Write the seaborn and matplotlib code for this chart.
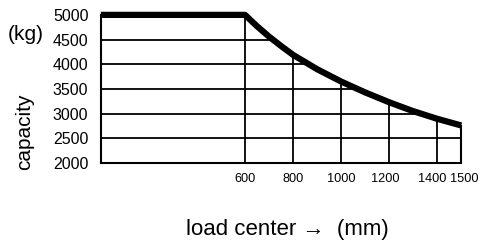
import matplotlib
matplotlib.use("Agg")
import matplotlib.pyplot as plt
import matplotlib.transforms as mtransforms
import seaborn as sns
import pandas as pd

# load center (mm) vs rated capacity (kg)
load_center = [0, 600, 650, 700, 750, 800, 900, 1000, 1100, 1200, 1300, 1400, 1500]
capacity = [5000, 5000, 4770, 4560, 4370, 4190, 3900, 3650, 3430, 3230, 3050, 2895, 2760]

x_ticks = [600, 800, 1000, 1200, 1400, 1500]
y_ticks = [2000, 2500, 3000, 3500, 4000, 4500, 5000]

df = pd.DataFrame({"load_center": load_center, "capacity": capacity})

sns.set_style("white")
plt.rcParams['font.family'] = ['Liberation Sans', 'DejaVu Sans']

fig = plt.figure(figsize=(4.85, 2.44), dpi=100)
ax = fig.add_axes([0.208, 0.332, 0.743, 0.607])

ax.set_xlim(0, 1500)
ax.set_ylim(2000, 5000)
ax.set_xticks(x_ticks)
ax.set_yticks(y_ticks)
ax.tick_params(axis='x', length=0, labelsize=9.2, pad=7, labelcolor='black')
ax.tick_params(axis='y', length=0, labelsize=11.5, pad=9, labelcolor='black')

# the last x labels sit a bit off their lines so they don't collide
nudge = {1200: -4, 1400: -5, 1500: 3}
for tick, lab in zip(x_ticks, ax.get_xticklabels()):
    if tick in nudge:
        off = mtransforms.ScaledTranslation(nudge[tick] / 100, 0, fig.dpi_scale_trans)
        lab.set_transform(lab.get_transform() + off)

# grid only under the curve: clip the grid lines to the area below it
under = ax.fill_between(df["load_center"], 2000, df["capacity"], facecolor='none', linewidth=0)
ax.grid(True, color='black', linewidth=1.3, solid_capstyle='butt')
ax.set_axisbelow(True)
ax.yaxis.get_gridlines()[-1].set_visible(False)
ax.xaxis.get_gridlines()[-1].set_visible(False)
for gl in ax.xaxis.get_gridlines() + ax.yaxis.get_gridlines():
    gl.set_clip_path(under.get_paths()[0], ax.transData)

for s in ["top", "right"]:
    ax.spines[s].set_visible(False)
for s in ["left", "bottom"]:
    ax.spines[s].set_color('black')
    ax.spines[s].set_linewidth(1.5)

# right edge only up to the end of the curve
ax.vlines(load_center[-1], 2000, capacity[-1], color='black', linewidth=1.5, zorder=3, clip_on=False)

sns.lineplot(data=df, x="load_center", y="capacity", ax=ax, color='black',
             linewidth=4.5, zorder=5, clip_on=False, solid_capstyle='butt')

ax.set_xlabel("load center \u2192  (mm)", fontsize=16, color='black')
ax.xaxis.set_label_coords(0.517, -0.375)
ax.set_ylabel("capacity", fontsize=15, color='black')
ax.yaxis.set_label_coords(-0.186, 0.21)
fig.text(0.017, 0.857, "(kg)", fontsize=15, va='center', ha='left', color='black')

fig.savefig("out.png", dpi=100)
